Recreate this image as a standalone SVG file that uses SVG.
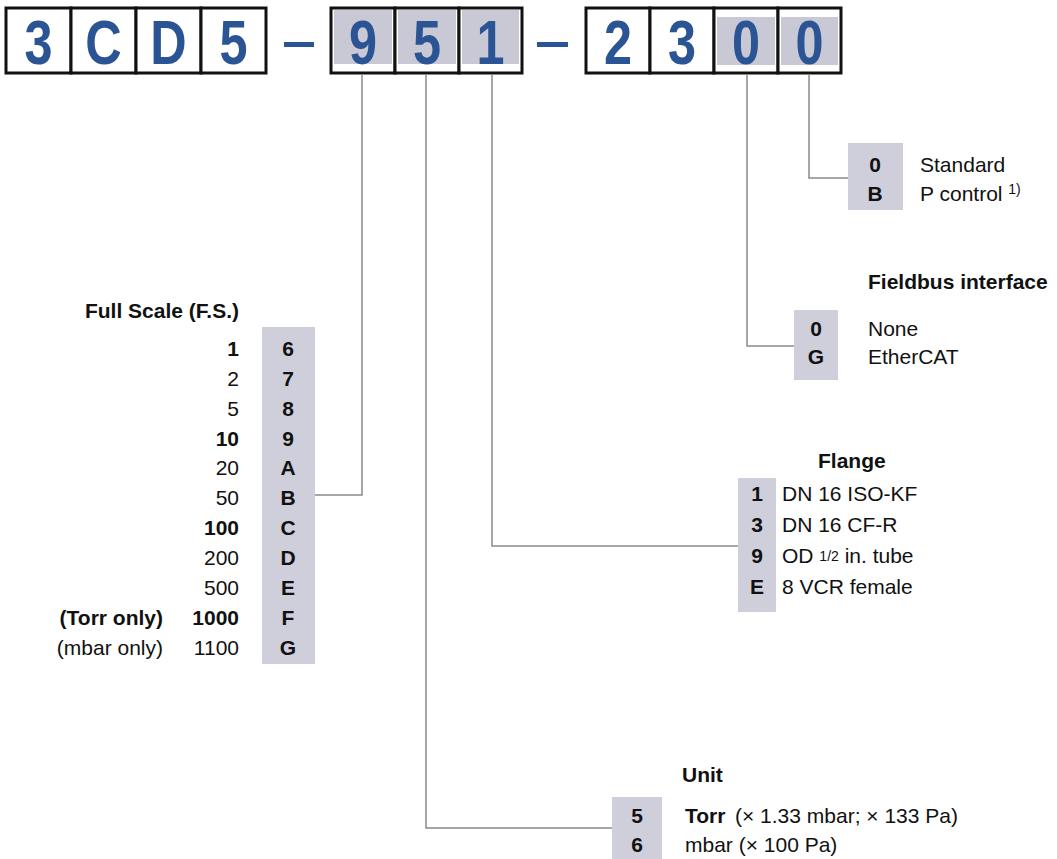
<svg xmlns="http://www.w3.org/2000/svg" width="1057" height="859" viewBox="0 0 1057 859">
<defs>
<style>
text{font-family:"Liberation Sans",Arial,sans-serif;fill:#111;font-size:21px}
.big{font-size:63px;font-weight:bold;fill:#2a5494;text-anchor:middle}
.box{fill:#fff;stroke:#111;stroke-width:3}
.sh{fill:#c9c9d6}
.col{fill:#cfcfdc}
.b{font-weight:bold}
.c{text-anchor:middle;font-weight:bold}
.r{text-anchor:end}
.dash{fill:#2a5494}
.con{fill:none;stroke:#8a8a8a;stroke-width:1.5}
</style>
</defs>
<rect width="1057" height="859" fill="#fff"/>

<g id="code">
<rect class="box" x="6" y="8" width="65" height="65"/>
<rect class="box" x="71" y="8" width="65" height="65"/>
<rect class="box" x="136" y="8" width="65" height="65"/>
<rect class="box" x="201" y="8" width="65" height="65"/>
<rect class="dash" x="284" y="42" width="30" height="5"/>
<rect class="box" x="331" y="8" width="64" height="65"/>
<rect class="box" x="395" y="8" width="64" height="65"/>
<rect class="box" x="459" y="8" width="63" height="65"/>
<rect class="sh" x="334" y="10" width="58" height="54"/>
<rect class="sh" x="398" y="10" width="58" height="54"/>
<rect class="sh" x="462" y="10" width="57" height="54"/>
<rect class="dash" x="537" y="42" width="31" height="5"/>
<rect class="box" x="586" y="8" width="64" height="65"/>
<rect class="box" x="650" y="8" width="64" height="65"/>
<rect class="box" x="714" y="8" width="64" height="65"/>
<rect class="box" x="778" y="8" width="63" height="65"/>
<rect class="sh" x="717" y="17" width="58" height="48"/>
<rect class="sh" x="781" y="17" width="57" height="48"/>
<text class="big" transform="translate(38.5,64) scale(0.8,1)">3</text>
<text class="big" transform="translate(103.5,64) scale(0.8,1)">C</text>
<text class="big" transform="translate(168.5,64) scale(0.8,1)">D</text>
<text class="big" transform="translate(233.5,64) scale(0.8,1)">5</text>
<text class="big" transform="translate(363,64) scale(0.8,1)">9</text>
<text class="big" transform="translate(427,64) scale(0.8,1)">5</text>
<text class="big" transform="translate(490.5,64) scale(0.8,1)">1</text>
<text class="big" transform="translate(618,64) scale(0.8,1)">2</text>
<text class="big" transform="translate(682,64) scale(0.8,1)">3</text>
<text class="big" transform="translate(746,64) scale(0.8,1)">0</text>
<text class="big" transform="translate(809.5,64) scale(0.8,1)">0</text>
</g>

<g id="connectors">
<path class="con" d="M362,74 V495 H315"/>
<path class="con" d="M426,74 V828 H612"/>
<path class="con" d="M492,74 V546 H738"/>
<path class="con" d="M747,74 V346 H794"/>
<path class="con" d="M809,74 V178 H848"/>
</g>

<g id="fullscale">
<rect class="col" x="262" y="327" width="53" height="337"/>
<text class="b r" x="239" y="318">Full Scale (F.S.)</text>
<text class="b r" x="239" y="356">1</text><text class="c" x="288" y="356">6</text>
<text class="r" x="239" y="386">2</text><text class="c" x="288" y="386">7</text>
<text class="r" x="239" y="416">5</text><text class="c" x="288" y="416">8</text>
<text class="b r" x="239" y="446">10</text><text class="c" x="288" y="446">9</text>
<text class="r" x="239" y="475">20</text><text class="c" x="288" y="475">A</text>
<text class="r" x="239" y="505">50</text><text class="c" x="288" y="505">B</text>
<text class="b r" x="239" y="535">100</text><text class="c" x="288" y="535">C</text>
<text class="r" x="239" y="565">200</text><text class="c" x="288" y="565">D</text>
<text class="r" x="239" y="595">500</text><text class="c" x="288" y="595">E</text>
<text class="b r" x="239" y="625">1000</text><text class="c" x="288" y="625">F</text>
<text class="r" x="239" y="655">1100</text><text class="c" x="288" y="655">G</text>
<text class="b r" x="163" y="625">(Torr only)</text>
<text class="r" x="163" y="655">(mbar only)</text>
</g>

<g id="unit">
<rect class="col" x="612" y="797" width="50" height="62"/>
<text class="b" x="682" y="782">Unit</text>
<text class="c" x="637" y="823">5</text>
<text class="c" x="637" y="852">6</text>
<text x="685" y="823"><tspan class="b">Torr</tspan><tspan x="735">(× 1.33 mbar; × 133 Pa)</tspan></text>
<text x="685" y="852">mbar  (× 100 Pa)</text>
</g>

<g id="flange">
<rect class="col" x="738" y="478" width="38" height="134"/>
<text class="b" x="818" y="468">Flange</text>
<text class="c" x="757" y="501">1</text><text x="782" y="501">DN 16 ISO-KF</text>
<text class="c" x="757" y="532">3</text><text x="782" y="532">DN 16 CF-R</text>
<text class="c" x="757" y="563">9</text><text x="782" y="563">OD <tspan font-size="14" dy="-2">1/2</tspan><tspan dy="2"> in. tube</tspan></text>
<text class="c" x="757" y="594">E</text><text x="782" y="594">8 VCR female</text>
</g>

<g id="fieldbus">
<rect class="col" x="794" y="310" width="44" height="70"/>
<text class="b" x="868" y="289">Fieldbus interface</text>
<text class="c" x="816" y="336">0</text><text x="868" y="336">None</text>
<text class="c" x="816" y="364">G</text><text x="868" y="364">EtherCAT</text>
</g>

<g id="control">
<rect class="col" x="848" y="143" width="55" height="67"/>
<text class="c" x="875" y="172">0</text><text x="920" y="172">Standard</text>
<text class="c" x="875" y="201">B</text><text x="920" y="201">P control <tspan font-size="14" dy="-7">1)</tspan></text>
</g>
</svg>
